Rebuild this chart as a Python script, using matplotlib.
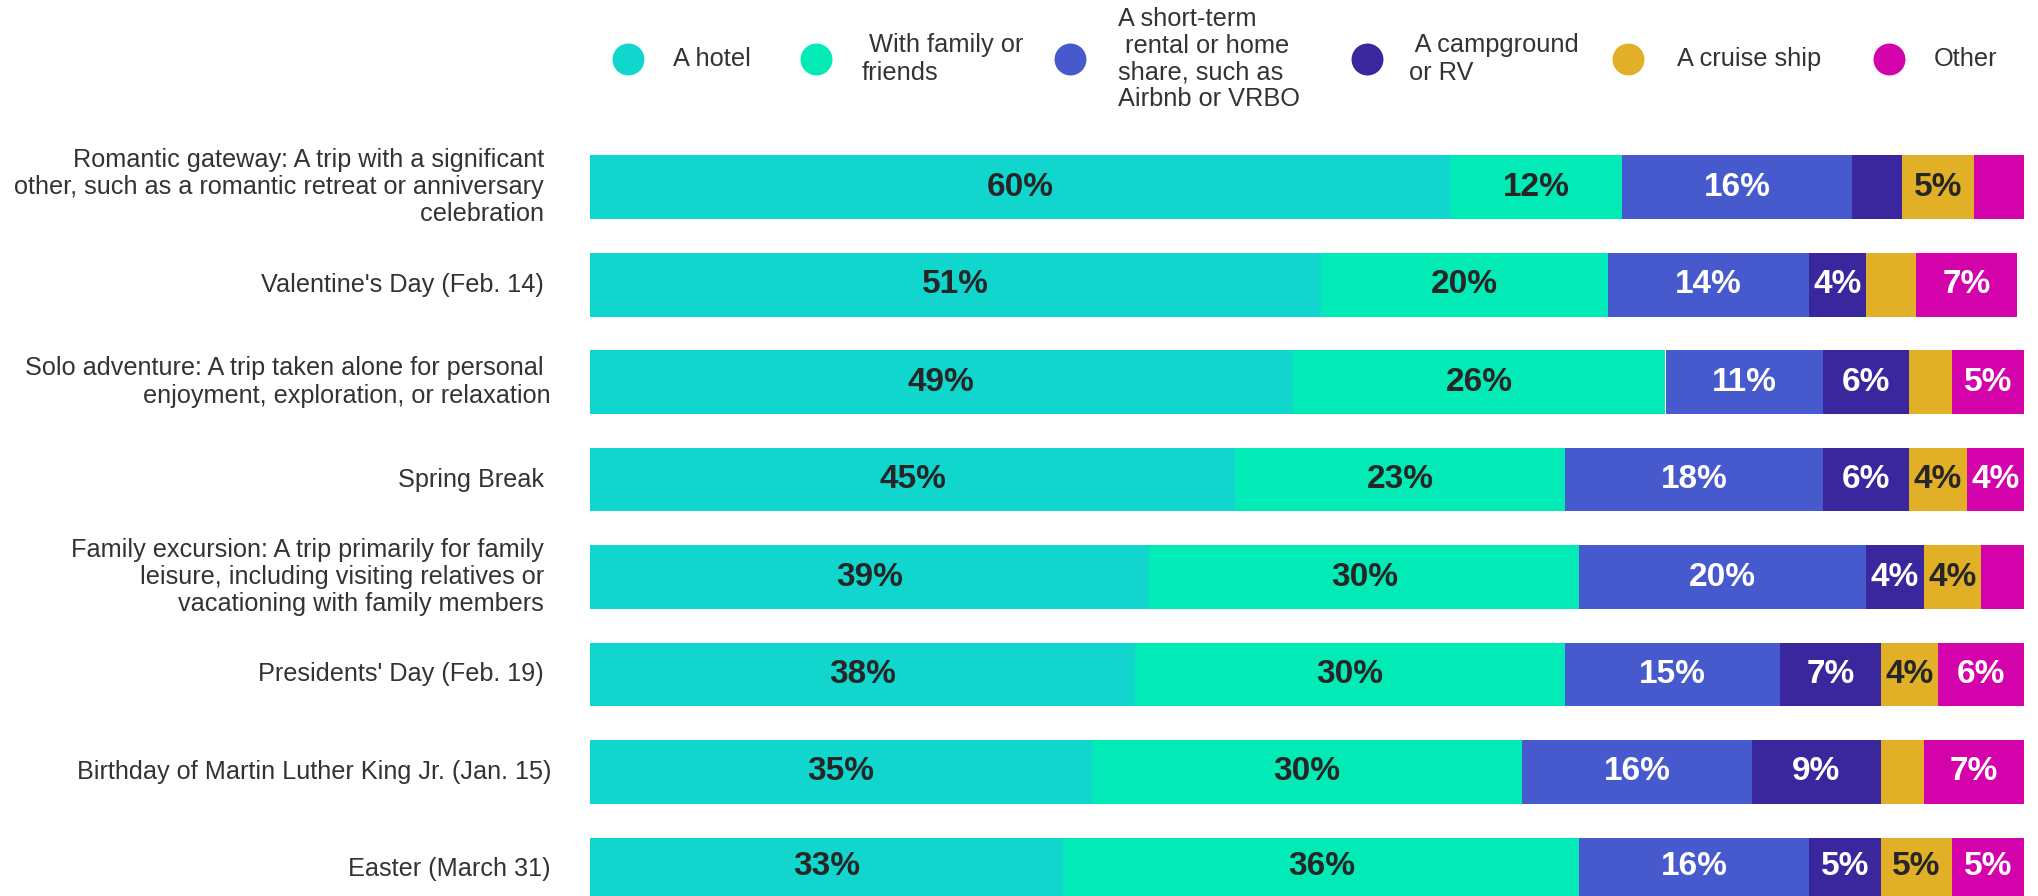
import numpy as np
import matplotlib
matplotlib.use("Agg")
import matplotlib.pyplot as plt

plt.rcParams['font.family'] = ['Liberation Sans', 'DejaVu Sans']

# ---- data -------------------------------------------------------------
categories = [
    "Romantic gateway: A trip with a significant \nother, such as a romantic retreat or anniversary \ncelebration ",
    "Valentine's Day (Feb. 14) ",
    "Solo adventure: A trip taken alone for personal \nenjoyment, exploration, or relaxation",
    "Spring Break ",
    "Family excursion: A trip primarily for family \nleisure, including visiting relatives or \nvacationing with family members ",
    "Presidents' Day (Feb. 19) ",
    "Birthday of Martin Luther King Jr. (Jan. 15)",
    "Easter (March 31)",
]

series_names = [
    "A hotel",
    " With family or\nfriends",
    "A short-term\n rental or home\nshare, such as\nAirbnb or VRBO",
    " A campground\nor RV",
    "A cruise ship",
    "Other",
]

hotel = [60, 51, 49, 45, 39, 38, 35, 33]
family_friends = [12, 20, 26, 23, 30, 30, 30, 36]
short_term = [16, 14, 11, 18, 20, 15, 16, 16]
campground = [3.5, 4, 6, 6, 4, 7, 9, 5]
cruise_ship = [5, 3.5, 3, 4, 4, 4, 3, 5]
other = [3.5, 7, 5, 4, 3, 6, 7, 5]

# ---- styling ----------------------------------------------------------
colors = ["#10D6CE", "#02EAB5", "#4659CD", "#3A269D", "#E2B026", "#D402AB"]
label_colors = ["#262626", "#262626", "white", "white", "#262626", "white"]
text_color = "#333333"

W, H = 2038, 896
fig = plt.figure(figsize=(W / 100, H / 100), dpi=100)
fig.patch.set_facecolor("white")

ax = fig.add_axes([590 / W, 0, 1434 / W, (H - 130) / H])
series = [hotel, family_friends, short_term, campground, cruise_ship, other]
y = np.arange(len(categories))
left = np.zeros(len(categories))
for vals, col, lcol in zip(series, colors, label_colors):
    vals = np.asarray(vals, dtype=float)
    bars = ax.barh(y, vals, left=left, height=0.656, color=col, linewidth=0)
    # small segments stay unlabelled
    labels = [f"{v:.0f}%" if v > 3.5 else "" for v in vals]
    ax.bar_label(bars, labels=labels, label_type="center", color=lcol,
                 fontsize=24, fontweight="bold")
    left += vals

ax.set_xlim(0, 100)
ax.set_ylim(7.272, -0.585)
ax.set_yticks(y, labels=categories)
ax.tick_params(axis="y", length=0, pad=28, labelsize=18.2, labelcolor=text_color)
for lab in ax.get_yticklabels():
    lab.set_verticalalignment("center")
    lab.set_linespacing(1.17)
ax.set_xticks([])
for s in ax.spines.values():
    s.set_visible(False)

# ---- legend row -------------------------------------------------------
leg = fig.add_axes([0, 0, 1, 1])
leg.set_xlim(0, W)
leg.set_ylim(H, 0)
leg.axis("off")
leg.patch.set_alpha(0)

marker_x = [628, 816, 1070, 1367, 1628, 1889]
text_x = [673, 862, 1118, 1409, 1677, 1934]
line_sp = [1.2, 1.2, 1.13, 1.2, 1.2, 1.2]
leg_y = 59
for mx, tx, name, col, ls in zip(marker_x, text_x, series_names, colors, line_sp):
    leg.plot([mx], [leg_y], marker="o", markersize=23, color=col,
             markeredgewidth=0, linestyle="none")
    leg.text(tx, leg_y, name, ha="left", va="center", fontsize=18.3,
             color=text_color, linespacing=ls)

fig.savefig("out.png", dpi=100, facecolor="white")
